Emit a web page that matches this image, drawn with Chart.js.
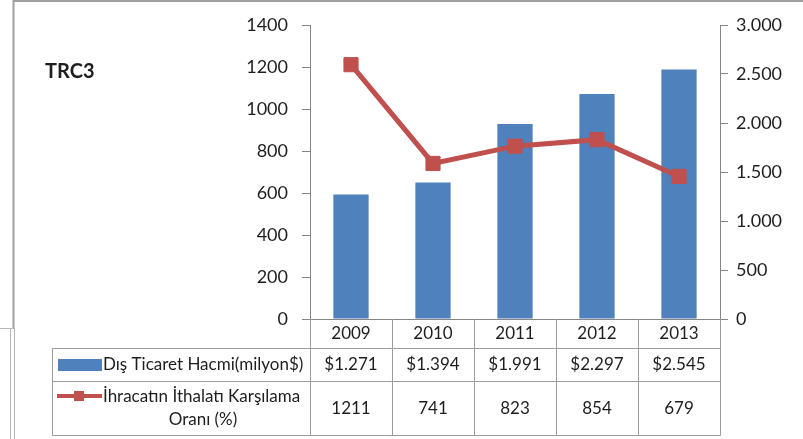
<!DOCTYPE html>
<html>
<head>
<meta charset="utf-8">
<script src="https://cdn.jsdelivr.net/npm/chart.js@4/dist/chart.umd.min.js"></script>
<style>
  html, body { margin: 0; padding: 0; background: #fff; }
  #wrap { width: 803px; height: 439px; }
</style>
</head>
<body>
<div id="wrap"><canvas id="trc3" width="803" height="439"></canvas></div>
<script>
const years = ['2009', '2010', '2011', '2012', '2013'];
const tradeVolume = [1271, 1394, 1991, 2297, 2545];
const coverageRatio = [1211, 741, 823, 854, 679];
const volumeName = 'Dış Ticaret Hacmi(milyon$)';
const ratioName = ['İhracatın İthalatı Karşılama', 'Oranı (%)'];

const BLUE = '#4F81BD';
const RED = '#C0504D';
const AXIS = '#868686';
const TABLE = '#9b9b9b';
const TEXT = '#1e1e1e';
const FONT = 'Lato, "Open Sans", sans-serif';

// 1234 -> "1.234"
function trNum(v) {
  return String(Math.round(v)).replace(/\B(?=(\d{3})+(?!\d))/g, '.');
}

// sheet frame, title and the data table under the plot
const tablePlugin = {
  id: 'dataTable',
  beforeDraw(chart) {
    const ctx = chart.ctx;
    ctx.save();
    ctx.fillStyle = '#fff';
    ctx.fillRect(0, 0, chart.width, chart.height);
    ctx.strokeStyle = '#a0a0a0';
    ctx.lineWidth = 2;
    ctx.beginPath();
    ctx.moveTo(13, 1); ctx.lineTo(chart.width, 1);
    ctx.moveTo(13.5, 0); ctx.lineTo(13.5, 329);
    ctx.stroke();
    ctx.lineWidth = 1;
    ctx.strokeStyle = '#b8b8b8';
    ctx.beginPath();
    ctx.moveTo(0, 328.5); ctx.lineTo(12, 328.5);
    ctx.moveTo(10.5, 329); ctx.lineTo(10.5, chart.height);
    ctx.moveTo(14.5, 329); ctx.lineTo(14.5, chart.height);
    ctx.stroke();

    ctx.fillStyle = TEXT;
    ctx.font = 'bold 20px ' + FONT;
    ctx.textAlign = 'left';
    ctx.textBaseline = 'middle';
    ctx.fillText('TRC3', 45, 72);
    ctx.restore();
  },
  afterDraw(chart) {
    const ctx = chart.ctx;
    const xs = chart.scales.x;
    const area = chart.chartArea;
    const step = (area.right - area.left) / years.length;
    const rowY = [348.5, 381.5, 435.5];
    const tableLeft = 52.5;

    ctx.save();
    ctx.strokeStyle = TABLE;
    ctx.lineWidth = 1;
    ctx.beginPath();
    for (let i = 0; i <= years.length; i++) {
      const x = Math.round(area.left + i * step) + 0.5;
      ctx.moveTo(x, area.bottom);
      ctx.lineTo(x, rowY[2]);
    }
    rowY.forEach(y => { ctx.moveTo(tableLeft, y); ctx.lineTo(area.right + 0.5, y); });
    ctx.moveTo(tableLeft, rowY[0]);
    ctx.lineTo(tableLeft, rowY[2]);
    ctx.stroke();

    // legend keys
    ctx.fillStyle = BLUE;
    ctx.fillRect(58, 359, 44, 12);
    ctx.strokeStyle = RED;
    ctx.lineWidth = 4;
    ctx.beginPath();
    ctx.moveTo(57, 396); ctx.lineTo(102, 396);
    ctx.stroke();
    ctx.fillStyle = RED;
    ctx.fillRect(74, 391, 10, 10);

    ctx.fillStyle = TEXT;
    ctx.font = '17px ' + FONT;
    ctx.textBaseline = 'middle';
    ctx.textAlign = 'left';
    ctx.fillText(volumeName, 103, 365);
    ctx.fillText(ratioName[0], 103, 397);
    ctx.textAlign = 'center';
    ctx.fillText(ratioName[1], 203, 420);

    years.forEach((yr, i) => {
      const cx = xs.getPixelForValue(i);
      ctx.fillText(yr, cx, 334);
      ctx.fillText('$' + trNum(tradeVolume[i]), cx, 365);
      ctx.fillText(String(coverageRatio[i]), cx, 409);
    });
    ctx.restore();
  }
};

new Chart(document.getElementById('trc3'), {
  type: 'bar',
  data: {
    labels: years,
    datasets: [
      {
        type: 'line',
        label: ratioName.join(' '),
        data: coverageRatio,
        yAxisID: 'yL',
        borderColor: RED,
        backgroundColor: RED,
        borderWidth: 5,
        pointStyle: 'rect',
        pointRadius: 10,
        pointBorderWidth: 1,
        tension: 0,
        order: 0
      },
      {
        type: 'bar',
        label: volumeName,
        data: tradeVolume,
        yAxisID: 'yR',
        backgroundColor: BLUE,
        barPercentage: 0.43,
        categoryPercentage: 1,
        order: 1
      }
    ]
  },
  options: {
    responsive: false,
    animation: false,
    layout: { padding: { top: 25, left: 0, right: 0, bottom: 0 } },
    plugins: { legend: { display: false }, tooltip: { enabled: false } },
    scales: {
      x: {
        ticks: { display: false },
        grid: { display: false },
        border: { color: AXIS, width: 1 },
        afterFit(s) { s.height = 120; }
      },
      yL: {
        position: 'left',
        min: 0,
        max: 1400,
        ticks: {
          stepSize: 200,
          padding: 14,
          color: TEXT,
          font: { family: FONT, size: 18 },
          callback: v => String(v)
        },
        grid: { drawOnChartArea: false, tickLength: 8, color: AXIS },
        border: { color: AXIS },
        afterFit(s) { s.width = 310; }
      },
      yR: {
        position: 'right',
        min: 0,
        max: 3000,
        ticks: {
          stepSize: 500,
          padding: 8,
          color: TEXT,
          font: { family: FONT, size: 18 },
          callback: v => trNum(v)
        },
        grid: { drawOnChartArea: false, tickLength: 8, color: AXIS },
        border: { color: AXIS },
        afterFit(s) { s.width = 83; }
      }
    }
  },
  plugins: [tablePlugin]
});
</script>
</body>
</html>
